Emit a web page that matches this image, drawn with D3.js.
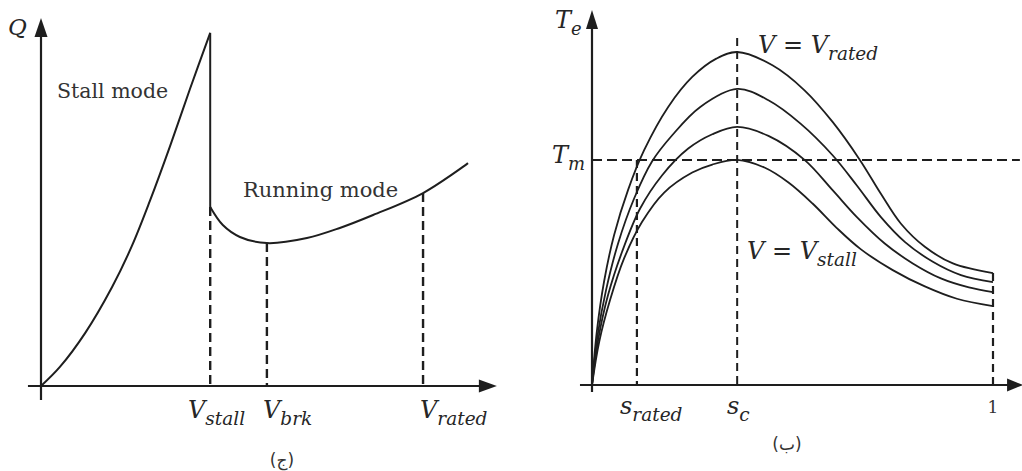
<!DOCTYPE html>
<html>
<head>
<meta charset="utf-8">
<script src="https://cdn.jsdelivr.net/npm/d3@7/dist/d3.min.js"></script>
<style>
  html, body { margin: 0; padding: 0; background: #fff; }
  svg { display: block; }
  .math { font-family: "DejaVu Serif", serif; font-style: italic; fill: #262626; }
  .word { font-family: "DejaVu Serif", serif; fill: #333; }
</style>
</head>
<body>
<svg id="chart" width="1022" height="471"></svg>
<script>
// ---- Left panel: Q versus V ----
const stallV = [0, 4.2, 9.8, 15.8, 20.2, 24.2, 28.7, 33.1, 37.6];
const stallQ = [0, 5.3, 14.7, 27.5, 38.9, 51.4, 66.7, 82.5, 98.1];
const runV = [37.6, 40.4, 44.2, 50.2, 59.1, 66.4, 73.8, 84.9, 94.9];
const runQ = [49.7, 44.7, 41.4, 39.7, 41.1, 43.9, 47.5, 53.6, 61.9];
const leftTickNames = ["stall", "brk", "rated"];
const leftTickV = [37.6, 50.2, 84.9];
const leftTickQ = [49.7, 39.7, 53.6];

// ---- Right panel: Te versus slip, one curve per supply voltage ----
const slipA = [0, 0.012, 0.03, 0.055, 0.09, 0.13, 0.19, 0.25, 0.31, 0.362, 0.45, 0.53, 0.60, 0.668, 0.72, 0.77, 0.83, 0.90, 1];
const teA   = [0, 16, 31, 45, 58.6, 70.5, 83.5, 92.5, 98, 100, 96, 88.5, 79, 67.6, 57.5, 48.5, 41.5, 36.5, 33.6];
const slipB = [0, 0.014, 0.035, 0.065, 0.105, 0.15, 0.20, 0.27, 0.362, 0.44, 0.52, 0.60, 0.66, 0.72, 0.78, 0.85, 0.92, 1];
const teB   = [0, 15, 28.5, 42.5, 56, 67.2, 75, 83.5, 88.9, 85.5, 78.5, 69, 60, 50.5, 43, 37, 33, 30.9];
const slipC = [0, 0.016, 0.04, 0.075, 0.12, 0.175, 0.24, 0.30, 0.362, 0.44, 0.53, 0.60, 0.66, 0.73, 0.80, 0.87, 0.94, 1];
const teC   = [0, 14, 27, 40, 53, 63, 71, 75.3, 77.5, 74.8, 67.6, 58.5, 50.5, 42.5, 36.5, 32, 29.3, 27.9];
const slipD = [0, 0.018, 0.045, 0.08, 0.125, 0.18, 0.25, 0.30, 0.362, 0.43, 0.49, 0.55, 0.61, 0.67, 0.75, 0.83, 0.91, 1];
const teD   = [0, 13, 25.5, 38, 49, 57.8, 63.8, 66.2, 67.6, 65.3, 60.8, 54.5, 47.2, 40.8, 34.5, 29.6, 25.9, 23.7];
const slipCritical = 0.362;
const slipRated = 0.112;
const slipUnit = 1;
const torqueLoad = 67.6;

const svg = d3.select("#chart");
const ink = "#1e1e1e";

function pairs(xs, ys) { return xs.map((x, i) => [x, ys[i]]); }

function arrowUp(g, x, y, w, h) {
  g.append("path").attr("d", `M${x},${y} L${x - w / 2},${y + h} L${x + w / 2},${y + h} Z`).attr("fill", ink);
}
function arrowRight(g, x, y, w, h) {
  g.append("path").attr("d", `M${x},${y} L${x - h},${y - w / 2} L${x - h},${y + w / 2} Z`).attr("fill", ink);
}
function mathLabel(g, x, y, main, sub, size, subSize, anchor) {
  const t = g.append("text").attr("class", "math").attr("x", x).attr("y", y)
    .attr("font-size", size).attr("text-anchor", anchor || "start");
  main.forEach(part => {
    t.append("tspan").text(part.s).attr("font-style", part.up ? "normal" : "italic");
  });
  if (sub) t.append("tspan").text(sub).attr("font-size", subSize).attr("dy", size * 0.28);
  return t;
}

// ================= Left panel =================
const xL = d3.scaleLinear().domain([0, 100]).range([41, 491]);
const yL = d3.scaleLinear().domain([0, 100]).range([386, 26]);
const gL = svg.append("g");

// axes
gL.append("line").attr("x1", xL(-2.9)).attr("x2", xL(99)).attr("y1", yL(0)).attr("y2", yL(0))
  .attr("stroke", ink).attr("stroke-width", 2.2);
gL.append("line").attr("x1", xL(0)).attr("x2", xL(0)).attr("y1", yL(-3.9)).attr("y2", yL(98))
  .attr("stroke", ink).attr("stroke-width", 2.2);
arrowRight(gL, xL(101.3), yL(0), 13, 18);
arrowUp(gL, xL(0), yL(102.2), 13, 19);

// dashed guides down to the V axis
gL.selectAll("line.guide").data(leftTickV).join("line").attr("class", "guide")
  .attr("x1", d => xL(d)).attr("x2", d => xL(d))
  .attr("y1", (d, i) => yL(leftTickQ[i])).attr("y2", yL(0))
  .attr("stroke", ink).attr("stroke-width", 2.4).attr("stroke-dasharray", "9,5");

const lineL = d3.line().x(d => xL(d[0])).y(d => yL(d[1])).curve(d3.curveCatmullRom.alpha(0.5));
gL.append("path").attr("d", lineL(pairs(stallV, stallQ)))
  .attr("fill", "none").attr("stroke", ink).attr("stroke-width", 2);
gL.append("line").attr("x1", xL(stallV[stallV.length - 1])).attr("x2", xL(runV[0]))
  .attr("y1", yL(stallQ[stallQ.length - 1])).attr("y2", yL(runQ[0]))
  .attr("stroke", ink).attr("stroke-width", 2);
gL.append("path").attr("d", lineL(pairs(runV, runQ)))
  .attr("fill", "none").attr("stroke", ink).attr("stroke-width", 2);

// labels
mathLabel(gL, 8, 35, [{ s: "Q" }], null, 23);
gL.append("text").attr("class", "word").attr("x", 57).attr("y", 98).attr("font-size", 20.5).text("Stall mode");
gL.append("text").attr("class", "word").attr("x", 243).attr("y", 197).attr("font-size", 21).text("Running mode");
const leftLabelX = [188, 263, 420];
leftTickNames.forEach((n, i) => mathLabel(gL, leftLabelX[i], 418, [{ s: "V" }], n, 24, 18.5));
gL.append("text").attr("x", 282).attr("y", 466).attr("text-anchor", "middle")
  .attr("font-family", "DejaVu Sans, sans-serif").attr("font-size", 17).attr("fill", "#333").text("(ج)");

// ================= Right panel =================
const xR = d3.scaleLinear().domain([0, 1]).range([592, 993]);
const yR = d3.scaleLinear().domain([0, 100]).range([385, 52]);
const gR = svg.append("g");

gR.append("line").attr("x1", xR(-0.03)).attr("x2", xR(1.05)).attr("y1", yR(0)).attr("y2", yR(0))
  .attr("stroke", ink).attr("stroke-width", 2.2);
gR.append("line").attr("x1", xR(0)).attr("x2", xR(0)).attr("y1", yR(-2.1)).attr("y2", yR(108))
  .attr("stroke", ink).attr("stroke-width", 2.2);
arrowRight(gR, xR(1.075), yR(0), 13, 16);
arrowUp(gR, xR(0), yR(112.6), 12, 19);

// dashed guides
gR.append("line").attr("x1", xR(0)).attr("x2", xR(1.067)).attr("y1", yR(torqueLoad)).attr("y2", yR(torqueLoad))
  .attr("stroke", ink).attr("stroke-width", 2).attr("stroke-dasharray", "10,5");
gR.append("line").attr("x1", xR(slipCritical)).attr("x2", xR(slipCritical)).attr("y1", yR(104.2)).attr("y2", yR(0))
  .attr("stroke", ink).attr("stroke-width", 2).attr("stroke-dasharray", "8,5");
gR.append("line").attr("x1", xR(slipRated)).attr("x2", xR(slipRated)).attr("y1", yR(torqueLoad)).attr("y2", yR(0))
  .attr("stroke", ink).attr("stroke-width", 2.2).attr("stroke-dasharray", "8,5");
gR.append("line").attr("x1", xR(slipUnit)).attr("x2", xR(slipUnit)).attr("y1", yR(teA[teA.length - 1])).attr("y2", yR(0))
  .attr("stroke", ink).attr("stroke-width", 2.2).attr("stroke-dasharray", "8,5");

const lineR = d3.line().x(d => xR(d[0])).y(d => yR(d[1])).curve(d3.curveCatmullRom.alpha(0.5));
[[slipA, teA], [slipB, teB], [slipC, teC], [slipD, teD]].forEach(([s, t]) => {
  gR.append("path").attr("d", lineR(pairs(s, t)))
    .attr("fill", "none").attr("stroke", ink).attr("stroke-width", 1.8);
});

// labels
mathLabel(gR, 555, 28, [{ s: "T" }], "e", 24, 18);
mathLabel(gR, 552, 163, [{ s: "T" }], "m", 24, 18);
mathLabel(gR, 758, 53, [{ s: "V" }, { s: " = ", up: true }, { s: "V" }], "rated", 24, 18.5);
mathLabel(gR, 747, 259, [{ s: "V" }, { s: " = ", up: true }, { s: "V" }], "stall", 24, 18.5);
mathLabel(gR, 620, 414, [{ s: "s" }], "rated", 24, 18.5);
mathLabel(gR, 727, 414, [{ s: "s" }], "c", 24, 18.5);
gR.append("text").attr("x", xR(slipUnit)).attr("y", 413).attr("text-anchor", "middle")
  .attr("font-family", "DejaVu Serif, serif").attr("font-size", 17).attr("fill", "#333").text("1");
gR.append("text").attr("x", 787).attr("y", 450).attr("text-anchor", "middle")
  .attr("font-family", "DejaVu Sans, sans-serif").attr("font-size", 17).attr("fill", "#333").text("(ب)");
</script>
</body>
</html>
